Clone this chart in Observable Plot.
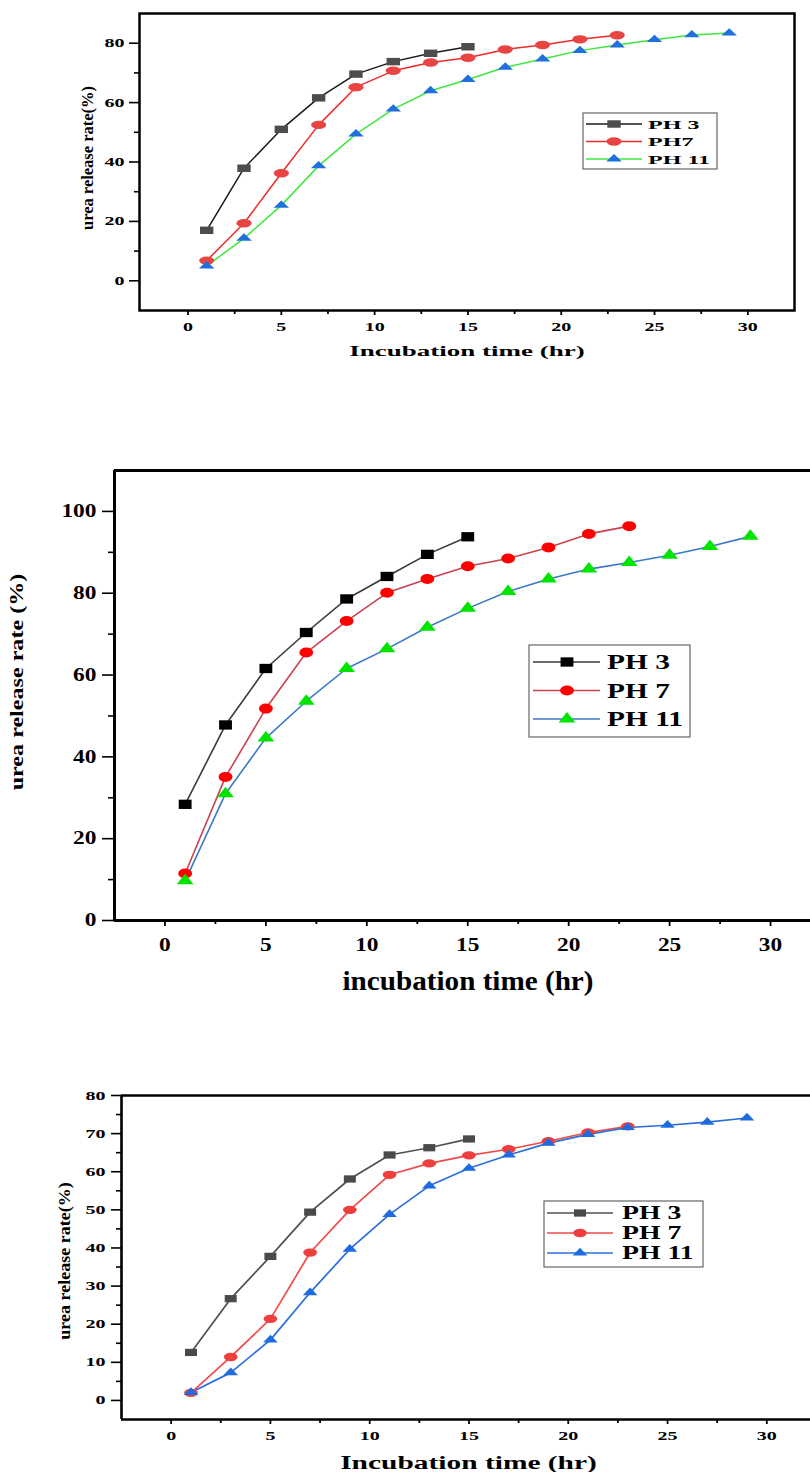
<!DOCTYPE html>
<html><head><meta charset="utf-8">
<script src="https://cdn.jsdelivr.net/npm/d3@7"></script>
<script src="https://cdn.jsdelivr.net/npm/@observablehq/plot@0.6"></script>
<style>
body{margin:0;background:#fff;}
#wrap{position:relative;width:810px;height:1472px;overflow:hidden;background:#fff;}
#wrap svg{position:absolute;left:0;overflow:visible;}
</style></head><body><div id="wrap"></div>
<script>
// ---------- data ----------
const timesPH3 = [1,3,5,7,9,11,13,15];
const timesPH7 = [1,3,5,7,9,11,13,15,17,19,21,23];
const timesPH11 = [1,3,5,7,9,11,13,15,17,19,21,23,25,27,29];

// Panel A (top)
const aPH3 = [17.0,37.9,51.0,61.6,69.6,73.8,76.6,78.8];
const aPH7 = [6.8,19.4,36.2,52.5,65.2,70.7,73.5,75.1,77.9,79.4,81.3,82.7];
const aPH11 = [5.0,14.3,25.4,38.7,49.4,57.8,64.0,67.8,71.9,74.7,77.5,79.4,81.2,82.8,83.4];
const aNames = ["PH 3","PH7","PH 11"];

// Panel B (middle)
const bPH3 = [28.4,47.8,61.6,70.4,78.6,84.1,89.5,93.8];
const bPH7 = [11.5,35.1,51.8,65.5,73.2,80.1,83.5,86.6,88.5,91.2,94.5,96.4];
const bPH11 = [9.7,31.0,44.6,53.6,61.6,66.4,71.7,76.3,80.4,83.5,85.9,87.5,89.3,91.4,93.9];
const bNames = ["PH 3","PH 7","PH 11"];

// Panel C (bottom)
const cPH3 = [12.6,26.7,37.8,49.4,58.1,64.4,66.3,68.6];
const cPH7 = [2.0,11.4,21.4,38.8,50.0,59.2,62.2,64.3,65.9,68.0,70.3,71.9];
const cPH11 = [2.1,7.3,15.9,28.3,39.7,48.8,56.3,60.9,64.4,67.5,69.8,71.6,72.2,73.0,74.1];
const cNames = ["PH 3","PH 7","PH 11"];

const xTicks = [0,5,10,15,20,25,30];
const xMinor = [2.5,7.5,12.5,17.5,22.5,27.5];
const yTicksA = [0,20,40,60,80];
const yMinorA = [10,30,50,70];
const yTicksB = [0,20,40,60,80,100];
const yMinorB = [10,30,50,70,90];
const yTicksC = [0,10,20,30,40,50,60,70,80];
const yMinorC = [5,15,25,35,45,55,65,75];

const xTitleA = "Incubation time (hr)";
const xTitleB = "incubation time (hr)";
const xTitleC = "Incubation time (hr)";
const yTitleA = "urea release rate(%)";
const yTitleB = "urea release rate (%)";
const yTitleC = "urea release rate(%)";

function rows(times, vals) { return times.map((t, i) => ({t, v: vals[i]})); }

const FONT = "'Liberation Serif','Times New Roman','DejaVu Serif',serif";

function stretchEl(el, sx) {
  const tr = el.getAttribute("transform");
  if (tr) { el.setAttribute("transform", tr + ` scale(${sx},1)`); return; }
  let cx, cy;
  if (el.tagName === "circle") { cx = +el.getAttribute("cx"); cy = +el.getAttribute("cy"); }
  else { cx = +(el.getAttribute("x") || 0); cy = +(el.getAttribute("y") || 0); }
  el.setAttribute("transform", `translate(${cx},${cy}) scale(${sx},1) translate(${-cx},${-cy})`);
}

function drawPanel(cfg) {
  const marks = [];
  const fs = {stroke: "#000", strokeWidth: cfg.frameWidth};
  if (cfg.fullFrame) marks.push(Plot.frame(fs));
  else {
    marks.push(Plot.ruleY([cfg.yDomain[0], cfg.yDomain[1]], fs));
    marks.push(Plot.ruleX([cfg.xDomain[0]], fs));
  }
  marks.push(Plot.axisY(cfg.yTicks, {anchor: "left", tickSize: cfg.yTickSize, tickPadding: cfg.yTickPadding, strokeWidth: 1.6, label: null}));
  marks.push(Plot.axisY(cfg.yMinor, {anchor: "left", tickSize: cfg.yMinorSize, tickFormat: () => "", strokeWidth: 1.6, label: null}));
  marks.push(Plot.axisX(xTicks, {anchor: "bottom", tickSize: cfg.xTickSize, tickPadding: cfg.xTickPadding, strokeWidth: 1.8, label: null}));
  marks.push(Plot.axisX(xMinor, {anchor: "bottom", tickSize: cfg.xMinorSize, tickFormat: () => "", strokeWidth: 1.8, label: null}));
  cfg.series.forEach(s => marks.push(Plot.line(s.data, {x: "t", y: "v", stroke: s.line, strokeWidth: cfg.lineWidth})));
  cfg.series.forEach(s => marks.push(Plot.dot(s.data, {x: "t", y: "v", symbol: s.symbol, r: s.r, fill: s.fill, stroke: "none"})));

  const svg = Plot.plot({
    width: 810, height: cfg.height,
    marginLeft: cfg.marginLeft, marginRight: cfg.marginRight, marginTop: cfg.marginTop, marginBottom: cfg.marginBottom,
    x: {domain: cfg.xDomain}, y: {domain: cfg.yDomain},
    style: {fontFamily: FONT, fontWeight: "bold", fontSize: cfg.tickFont + "px", color: "#000", background: "transparent"},
    marks
  });
  svg.style.top = cfg.top + "px";
  document.getElementById("wrap").appendChild(svg);
  const sel = d3.select(svg);
  sel.selectAll("text").each(function() { stretchEl(this, cfg.tickSx); });
  sel.selectAll('g[aria-label="dot"] path, g[aria-label="dot"] circle').each(function() { stretchEl(this, cfg.markSx); });

  // axis titles
  sel.append("text").attr("transform", `translate(${cfg.xTitle.x},${cfg.xTitle.y}) scale(${cfg.xTitle.sx},1)`)
    .attr("text-anchor", "middle").attr("font-size", cfg.xTitle.font).attr("fill", "#000").text(cfg.xTitle.text);
  sel.append("text").attr("transform", `translate(${cfg.yTitle.x},${cfg.yTitle.y}) rotate(-90) scale(${cfg.yTitle.ls},1)`)
    .attr("text-anchor", "middle").attr("font-size", cfg.yTitle.font).attr("fill", "#000").text(cfg.yTitle.text);

  // legend
  const L = cfg.legend;
  const g = sel.append("g");
  g.append("rect").attr("x", L.box[0]).attr("y", L.box[1]).attr("width", L.box[2]).attr("height", L.box[3])
    .attr("fill", "#fff").attr("stroke", "#666").attr("stroke-width", 1.2);
  cfg.series.forEach((s, i) => {
    const yy = L.y0 + i * L.dy;
    g.append("line").attr("x1", L.lineX[0]).attr("x2", L.lineX[1]).attr("y1", yy).attr("y2", yy)
      .attr("stroke", s.line).attr("stroke-width", cfg.lineWidth);
    const type = s.symbol === "square" ? d3.symbolSquare : s.symbol === "triangle" ? d3.symbolTriangle : d3.symbolCircle;
    g.append("path").attr("d", d3.symbol(type, Math.PI * s.r * s.r)())
      .attr("transform", `translate(${L.markX},${yy}) scale(${cfg.markSx},1)`).attr("fill", s.fill);
    g.append("text").attr("transform", `translate(${L.textX},${yy}) scale(${L.sx},1)`)
      .attr("text-anchor", "start").attr("dy", "0.35em").attr("font-size", L.font).attr("fill", "#000").text(s.name);
  });
}

drawPanel({
  top: 0, height: 370, marginLeft: 139, marginRight: 16, marginTop: 13, marginBottom: 60,
  xDomain: [-2.6, 32.5], yDomain: [-10, 90],
  yTicks: yTicksA, yMinor: yMinorA,
  tickFont: 12.5, tickSx: 1.6,
  yTickSize: 10, yMinorSize: 5, yTickPadding: 5,
  xTickSize: 5, xMinorSize: 4, xTickPadding: 7,
  fullFrame: true, frameWidth: 2.5, lineWidth: 1.5, markSx: 1.8,
  series: [
    {name: aNames[0], data: rows(timesPH3, aPH3), line: "#1a1a1a", fill: "#4d4d4d", symbol: "square", r: 4.2},
    {name: aNames[1], data: rows(timesPH7, aPH7), line: "#ee2a2a", fill: "#e94444", symbol: "circle", r: 4.2},
    {name: aNames[2], data: rows(timesPH11, aPH11), line: "#3de83d", fill: "#1f6fdc", symbol: "triangle", r: 3.2}
  ],
  xTitle: {text: xTitleA, x: 467, y: 356, font: 15, sx: 1.8},
  yTitle: {text: yTitleA, x: 93, y: 158, font: 17, ls: 0.97},
  legend: {box: [583, 113, 134, 56], lineX: [586, 642], markX: 614, textX: 648, y0: 124, dy: 17.5, font: 13, sx: 1.85}
});

drawPanel({
  top: 440, height: 560, marginLeft: 114, marginRight: 0, marginTop: 30, marginBottom: 80,
  xDomain: [-2.5, 31.98], yDomain: [0, 110],
  yTicks: yTicksB, yMinor: yMinorB,
  tickFont: 18, tickSx: 1.3,
  yTickSize: 12, yMinorSize: 6, yTickPadding: 6,
  xTickSize: 6, xMinorSize: 4, xTickPadding: 12,
  fullFrame: false, frameWidth: 3, lineWidth: 1.6, markSx: 1.38,
  series: [
    {name: bNames[0], data: rows(timesPH3, bPH3), line: "#3a3a3a", fill: "#000000", symbol: "square", r: 5.25},
    {name: bNames[1], data: rows(timesPH7, bPH7), line: "#c9424e", fill: "#ff0000", symbol: "circle", r: 5},
    {name: bNames[2], data: rows(timesPH11, bPH11), line: "#3b78c9", fill: "#00e400", symbol: "triangle", r: 4.5}
  ],
  xTitle: {text: xTitleB, x: 468, y: 550, font: 27, sx: 1.08},
  yTitle: {text: yTitleB, x: 23, y: 242, font: 18, ls: 1.34},
  legend: {box: [529, 205, 161, 92], lineX: [533, 600], markX: 567, textX: 607, y0: 222, dy: 28.5, font: 21, sx: 1.4}
});

drawPanel({
  top: 1070, height: 402, marginLeft: 121, marginRight: 0, marginTop: 25, marginBottom: 53,
  xDomain: [-2.5, 32.2], yDomain: [-5, 80],
  yTicks: yTicksC, yMinor: yMinorC,
  tickFont: 12.5, tickSx: 1.6,
  yTickSize: 10, yMinorSize: 5, yTickPadding: 6,
  xTickSize: 5, xMinorSize: 4, xTickPadding: 7,
  fullFrame: false, frameWidth: 2.6, lineWidth: 1.7, markSx: 1.65,
  series: [
    {name: cNames[0], data: rows(timesPH3, cPH3), line: "#505050", fill: "#4a4a4a", symbol: "square", r: 4.1},
    {name: cNames[1], data: rows(timesPH7, cPH7), line: "#f04a4a", fill: "#ee3e3e", symbol: "circle", r: 4.15},
    {name: cNames[2], data: rows(timesPH11, cPH11), line: "#2a6fdc", fill: "#1e6be0", symbol: "triangle", r: 3.3}
  ],
  xTitle: {text: xTitleC, x: 468.5, y: 399, font: 19, sx: 1.55},
  yTitle: {text: yTitleC, x: 70, y: 191, font: 17.5, ls: 1.03},
  legend: {box: [544, 131, 159, 66], lineX: [547, 613], markX: 580, textX: 622, y0: 143, dy: 20, font: 18.5, sx: 1.5}
});
</script></body></html>
